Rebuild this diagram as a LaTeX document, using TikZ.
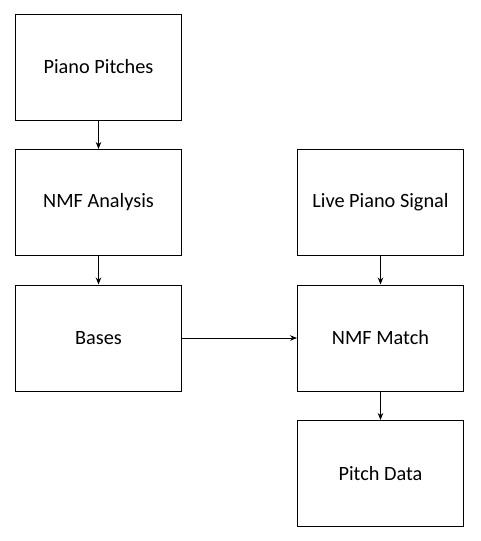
\documentclass[tikz,border=0pt]{standalone}
\usepackage{fontspec}
\setmainfont{Carlito}
\usetikzlibrary{arrows.meta}
\begin{document}
\begin{tikzpicture}[x=1pt,y=-1pt,
  box/.style={draw=black,line width=1pt,minimum width=166pt,minimum height=106pt,inner sep=0pt,font=\fontsize{20.3}{23}\selectfont},
  conn/.style={draw=black,line width=0.8pt,-{Stealth[length=7pt,width=5.5pt]}}]
\useasboundingbox (0,0) rectangle (481,541);
\node[box] (pp) at (98.5,67) {Piano Pitches};
\node[box] (na) at (98.5,202.5) {NMF Analysis};
\node[box] (ba) at (98.5,338) {Bases};
\node[box] (lp) at (380.5,202.5) {Live Piano Signal};
\node[box] (nm) at (380.5,338) {NMF Match};
\node[box] (pd) at (380.5,473.5) {Pitch Data};
\draw[conn] (pp) -- (na);
\draw[conn] (na) -- (ba);
\draw[conn] (ba) -- (nm);
\draw[conn] (lp) -- (nm);
\draw[conn] (nm) -- (pd);
\end{tikzpicture}
\end{document}
